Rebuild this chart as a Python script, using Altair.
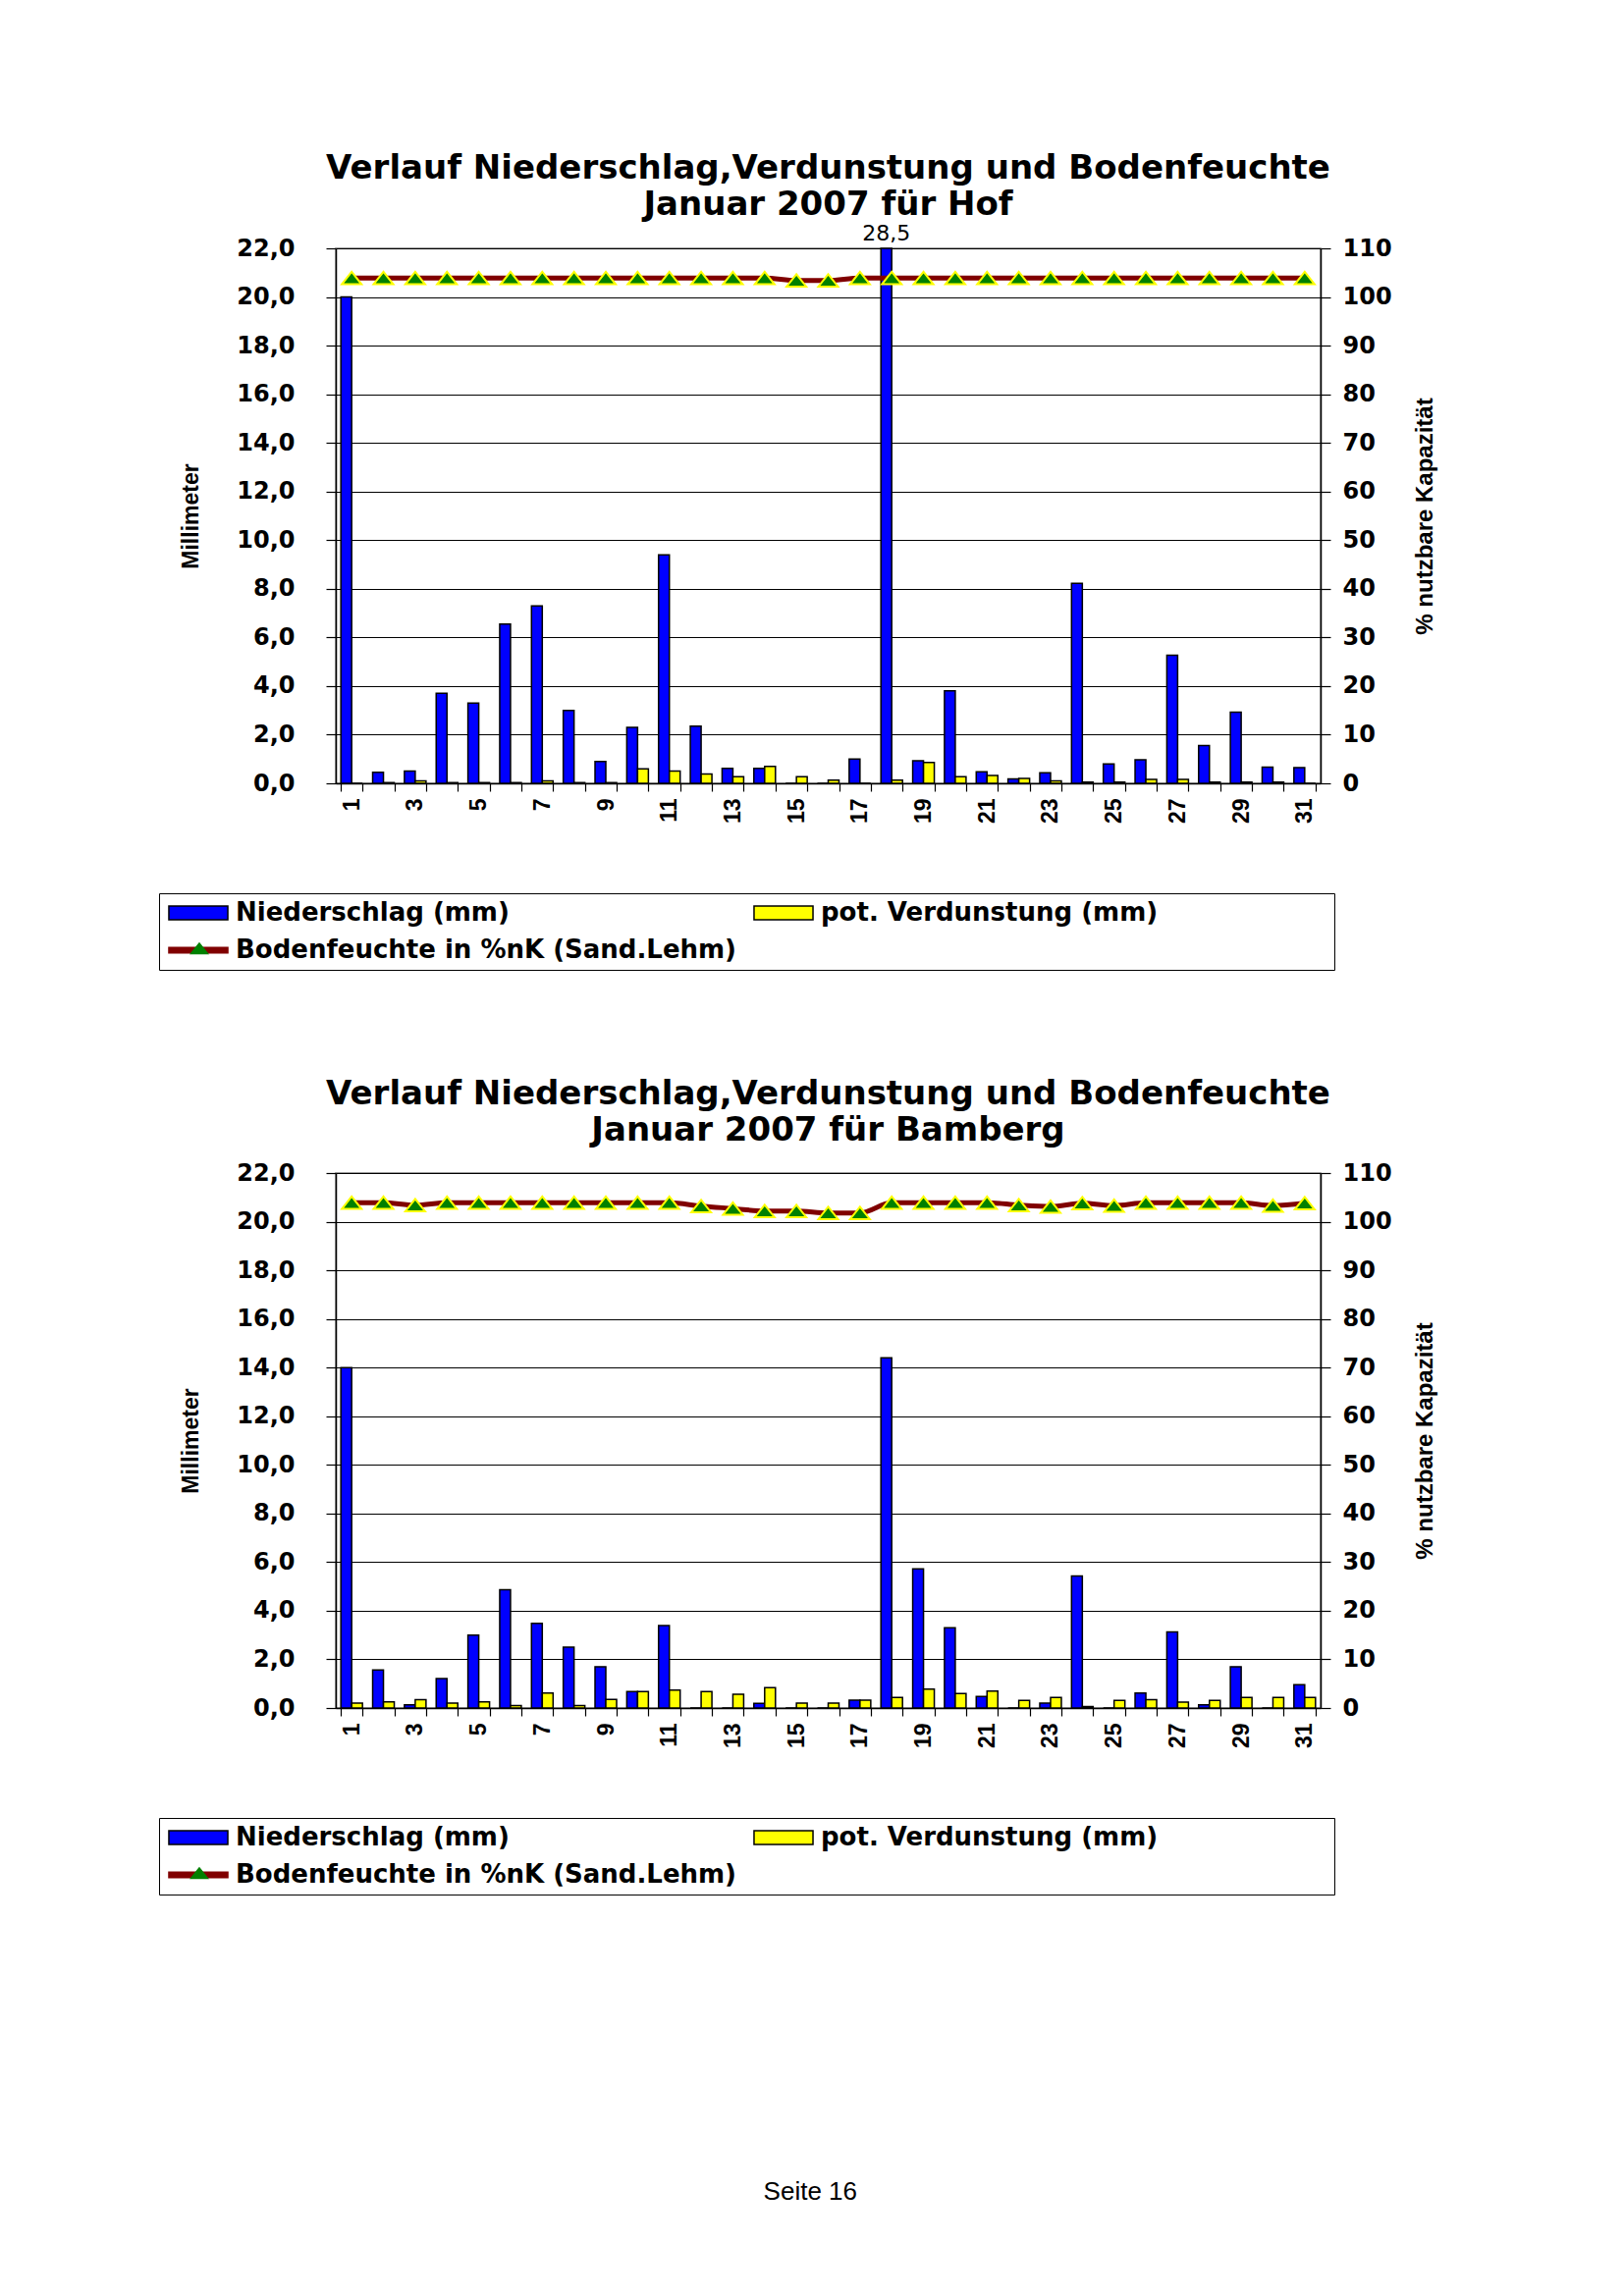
import altair as alt
import pandas as pd

days = list(range(1, 32))

N = "Niederschlag (mm)"
V = "pot. Verdunstung (mm)"
B = "Bodenfeuchte in %nK (Sand.Lehm)"

hof_niederschlag = [20.0, 0.45, 0.5, 3.7, 3.3, 6.55, 7.3, 3.0, 0.9, 2.3, 9.4, 2.35, 0.62, 0.62, 0.0, 0.0,
                    1.0, 28.5, 0.93, 3.8, 0.47, 0.18, 0.43, 8.22, 0.8, 0.97, 5.27, 1.55, 2.93, 0.67, 0.65]
hof_verdunstung = [0.0, 0.03, 0.1, 0.03, 0.03, 0.03, 0.1, 0.03, 0.03, 0.6, 0.5, 0.38, 0.27, 0.7, 0.27, 0.13,
                   0.0, 0.13, 0.86, 0.27, 0.32, 0.2, 0.1, 0.05, 0.05, 0.16, 0.16, 0.05, 0.05, 0.05, 0.0]
hof_bodenfeuchte = [103.9, 103.9, 103.9, 103.9, 103.9, 103.9, 103.9, 103.9, 103.9, 103.9, 103.9, 103.9,
                    103.9, 103.9, 103.4, 103.4, 103.9, 103.9, 103.9, 103.9, 103.9, 103.9, 103.9, 103.9,
                    103.9, 103.9, 103.9, 103.9, 103.9, 103.9, 103.9]

bam_niederschlag = [14.0, 1.56, 0.13, 1.21, 3.0, 4.86, 3.48, 2.5, 1.7, 0.68, 3.39, 0.0, 0.0, 0.19, 0.0, 0.0,
                    0.32, 14.4, 5.72, 3.3, 0.47, 0.0, 0.2, 5.43, 0.0, 0.62, 3.13, 0.13, 1.7, 0.0, 0.96]
bam_verdunstung = [0.2, 0.25, 0.34, 0.2, 0.25, 0.1, 0.62, 0.1, 0.35, 0.68, 0.74, 0.68, 0.57, 0.84, 0.2, 0.2,
                   0.32, 0.43, 0.78, 0.6, 0.7, 0.31, 0.43, 0.06, 0.31, 0.34, 0.24, 0.31, 0.43, 0.43, 0.43]
bam_bodenfeuchte = [103.9, 103.9, 103.4, 103.9, 103.9, 103.9, 103.9, 103.9, 103.9, 103.9, 103.9, 103.2,
                    102.7, 102.2, 102.2, 101.8, 101.8, 103.9, 103.9, 103.9, 103.9, 103.4, 103.1, 103.8,
                    103.3, 103.9, 103.9, 103.9, 103.9, 103.3, 103.8]

title_line1 = "Verlauf Niederschlag,Verdunstung und Bodenfeuchte"
stations = ["Hof", "Bamberg"]

BLUE, YELLOW, DARKRED, GREEN = "#0000FF", "#FFFF00", "#800000", "#008000"
RECT_PATH = "M-4.29,-1H4.29V1H-4.29Z"
LINE_PATH = "M-4.29,-0.4H4.29V0.4H-4.29Z"
TRI_PATH = "M0,-0.63L1,0.63H-1Z"
PAD = "\u00a0" * 19 + "\u200b"


def panel(station, nied, verd, feuchte, title_offset):
    bars_df = pd.DataFrame({"day": days * 2, "series": [N] * 31 + [V] * 31, "value": nied + verd})
    line_df = pd.DataFrame({"day": days, "series": [B] * 31, "feuchte": feuchte})
    legend_df = pd.DataFrame({"day": [1, 1, 1], "series": [N, V, B], "value": [None, None, None]})

    x_enc = alt.X(
        "day:O",
        scale=alt.Scale(paddingInner=0.32, paddingOuter=0.16),
        axis=alt.Axis(title=None, labelAngle=-90,
                      labelExpr="datum.value % 2 == 1 ? datum.label : ''",
                      tickBand="extent", tickSize=8, tickColor="black", tickWidth=1.2,
                      domainColor="black", domainWidth=1.5, grid=False,
                      labelFont="Liberation Sans", labelFontWeight="bold", labelFontSize=23,
                      labelColor="black", labelPadding=7),
    )
    xoff = alt.XOffset("series:N", scale=alt.Scale(domain=[N, V], paddingInner=0, paddingOuter=0))
    y_mm = alt.Y(
        "value:Q",
        scale=alt.Scale(domain=[0, 22], clamp=True, nice=False),
        axis=alt.Axis(title="Millimeter", values=list(range(0, 23, 2)),
                      labelExpr="replace(format(datum.value, '.1f'), '.', ',')",
                      grid=True, gridColor="black", gridWidth=1,
                      tickSize=10, tickColor="black", tickWidth=1.2,
                      domainColor="black", domainWidth=1.5,
                      labelFont="DejaVu Sans", labelFontWeight="bold", labelFontSize=24,
                      labelColor="black", labelPadding=32,
                      titleFont="Liberation Sans", titleFontWeight="bold", titleFontSize=23,
                      titleColor="black", titlePadding=34),
    )
    y_pct = alt.Y(
        "feuchte:Q",
        scale=alt.Scale(domain=[0, 110], nice=False),
        axis=alt.Axis(orient="right", title="% nutzbare Kapazität", values=list(range(0, 111, 10)),
                      grid=False, tickSize=10, tickColor="black", tickWidth=1.2,
                      domainColor="black", domainWidth=1.5,
                      labelFont="DejaVu Sans", labelFontWeight="bold", labelFontSize=24,
                      labelColor="black", labelPadding=12,
                      titleFont="Liberation Sans", titleFontWeight="bold", titleFontSize=24,
                      titleColor="black", titleAngle=-90, titleBaseline="top", titlePadding=22),
    )

    legend_a = alt.Legend(
        orient="none", legendX=-180, legendY=657, direction="horizontal", columns=2, title=None,
        symbolSize=196, symbolStrokeWidth=1.5, symbolOffset=20,
        labelFont="DejaVu Sans", labelFontWeight="bold", labelFontSize=26, labelColor="black",
        labelLimit=3000, labelOffset=25, columnPadding=14, rowPadding=12, padding=7,
        strokeColor="black", fillColor="white",
        labelExpr="indexof(datum.label, 'Verdunstung') >= 0 ? datum.label + '" + PAD + "' : datum.label",
    )
    legend_b = alt.Legend(
        orient="none", legendX=-150, legendY=702, title=None, labelExpr="''",
        symbolType=TRI_PATH, symbolSize=400, symbolFillColor=GREEN, symbolStrokeColor=YELLOW,
        symbolStrokeWidth=2, padding=0, labelFontSize=1,
    )
    fill_enc = alt.Fill("series:N", scale=alt.Scale(domain=[N, V, B], range=[BLUE, YELLOW, DARKRED]),
                        legend=legend_a)
    shape_enc = alt.Shape("series:N", scale=alt.Scale(domain=[N, V, B], range=[RECT_PATH, RECT_PATH, LINE_PATH]),
                          legend=legend_a)
    stroke_enc = alt.Stroke("series:N", scale=alt.Scale(domain=[N, V, B], range=["black", "black", DARKRED]),
                            legend=legend_a)

    bars = alt.Chart(bars_df).mark_bar(stroke="black", strokeWidth=1.5).encode(
        x=x_enc, xOffset=xoff, y=y_mm, fill=fill_enc)
    label = alt.Chart(bars_df).transform_filter("datum.value > 22").transform_calculate(
        lbl="replace(format(datum.value, '.1f'), '.', ',')"
    ).mark_text(baseline="bottom", dy=-3, font="DejaVu Sans", fontSize=22, color="black").encode(
        x=x_enc, xOffset=xoff, y=y_mm, text="lbl:N")
    dummy = alt.Chart(legend_df).mark_point(filled=True).encode(
        x=x_enc, y=y_mm, fill=fill_enc, shape=shape_enc, stroke=stroke_enc)

    line = alt.Chart(line_df).mark_line(color=DARKRED, strokeWidth=5, interpolate="monotone").encode(
        x=x_enc, y=y_pct)
    points = alt.Chart(line_df).mark_point(shape=TRI_PATH, filled=True, fill=GREEN, stroke=YELLOW,
                                           strokeWidth=2, size=400, opacity=1).encode(
        x=x_enc, y=y_pct,
        opacity=alt.Opacity("series:N", scale=alt.Scale(domain=[B], range=[1]), legend=legend_b))

    left = alt.layer(bars, label, dummy)
    right = alt.layer(line, points)
    return alt.layer(left, right).resolve_scale(y="independent").properties(
        width=1003, height=545,
        title=alt.TitleParams([title_line1, "Januar 2007 für " + station], anchor="middle", frame="group",
                              font="DejaVu Sans", fontWeight="bold", fontSize=34, lineHeight=37,
                              color="black", offset=title_offset),
    )


p1 = panel(stations[0], hof_niederschlag, hof_verdunstung, hof_bodenfeuchte, 1)
p2 = panel(stations[1], bam_niederschlag, bam_verdunstung, bam_bodenfeuchte, 14)

chart = alt.vconcat(
    p1, p2, spacing=107,
    title=alt.TitleParams("Seite 16", orient="bottom", anchor="middle", font="Liberation Sans",
                          fontSize=26, fontWeight="normal", color="black", offset=289, dx=13),
).resolve_scale(
    fill="independent", shape="independent", stroke="independent", opacity="independent"
).resolve_legend(
    fill="independent", shape="independent", stroke="independent", opacity="independent"
).properties(
    padding={"left": 152, "top": 146, "right": 20, "bottom": 10}, background="white"
).configure_view(stroke="#808080", strokeWidth=1.5)

chart.save("out.html", embed_options={"renderer": "svg", "actions": False})
